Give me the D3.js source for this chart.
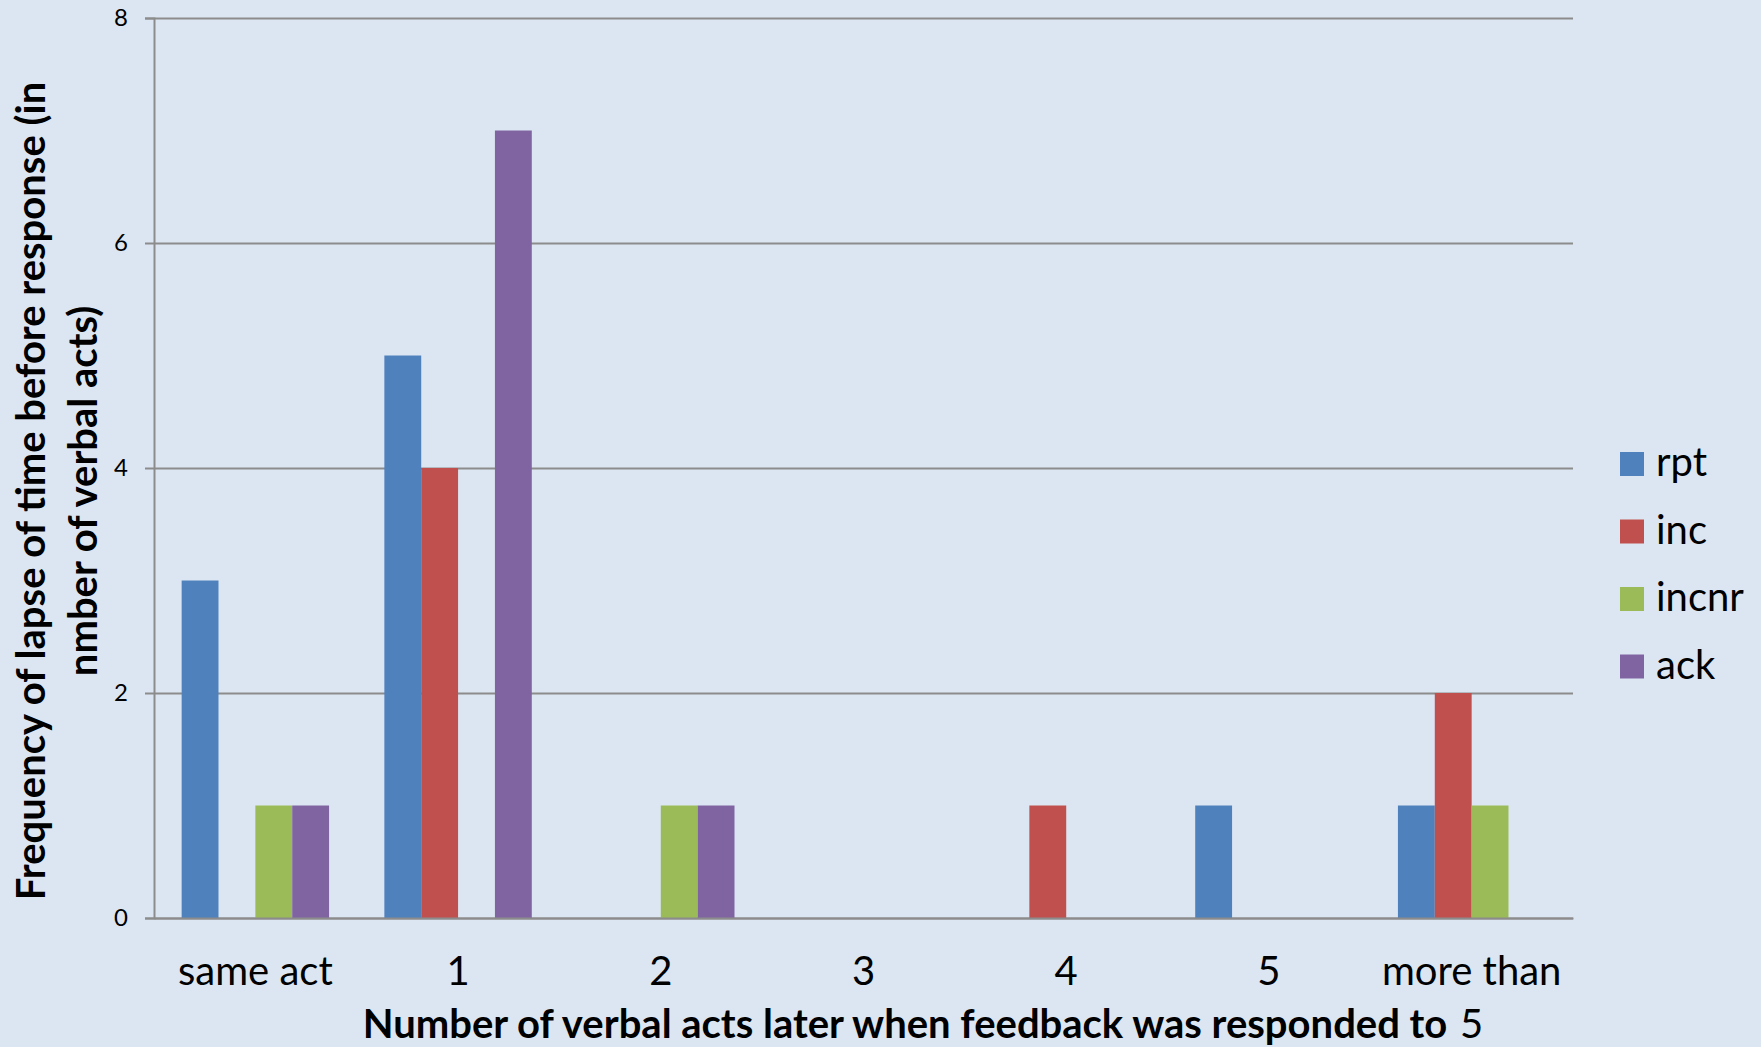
<!DOCTYPE html>
<html>
<head>
<meta charset="utf-8">
<script src="https://cdn.jsdelivr.net/npm/d3@7"></script>
<style>
  html, body { margin: 0; padding: 0; background: #dce6f2; }
  svg { display: block; font-family: Lato, "Open Sans", sans-serif; }
</style>
</head>
<body>
<script>
// chart data
const categories = ["same act", "1", "2", "3", "4", "5", "more than 5"];
const seriesNames = ["rpt", "inc", "incnr", "ack"];
const rpt   = [3, 5, 0, 0, 0, 1, 1];
const inc   = [0, 4, 0, 0, 1, 0, 2];
const incnr = [1, 0, 1, 0, 0, 0, 1];
const ack   = [1, 7, 1, 0, 0, 0, 0];
const yTicks = [0, 2, 4, 6, 8];
const colors = ["#4f81bd", "#c0504d", "#9bbb59", "#8064a2"];

const width = 1761, height = 1047;
const plot = { left: 154, right: 1573, top: 18, bottom: 918 };

const seriesValues = [rpt, inc, incnr, ack];
const rows = categories.map((c, i) => {
  const row = { cat: c };
  seriesNames.forEach((s, j) => row[s] = seriesValues[j][i]);
  return row;
});

const svg = d3.select("body").append("svg")
    .attr("width", width)
    .attr("height", height);

svg.append("rect")
    .attr("width", width)
    .attr("height", height)
    .attr("fill", "#dce6f2");

const x0 = d3.scaleBand()
    .domain(categories)
    .range([plot.left, plot.right])
    .padding(0);

// excel style gap width of 150% between groups
const slot = x0.bandwidth();
const gap = slot * 1.5 / 5.5;
const x1 = d3.scaleBand()
    .domain(seriesNames)
    .range([gap / 2, slot - gap / 2])
    .padding(0);

const y = d3.scaleLinear()
    .domain([0, 8])
    .range([plot.bottom, plot.top]);

// gridlines
svg.append("g")
    .attr("transform", "translate(" + plot.left + ",0)")
    .call(d3.axisLeft(y).tickValues(yTicks).tickSize(-(plot.right - plot.left)).tickFormat(""))
    .call(g => g.select(".domain").remove())
    .call(g => g.selectAll("line").attr("stroke", "#8c8c8c").attr("stroke-width", 2));

// bars
const groups = svg.append("g").selectAll("g")
    .data(rows)
    .enter().append("g")
    .attr("transform", d => "translate(" + x0(d.cat) + ",0)");

groups.selectAll("rect")
    .data(d => seriesNames.map((s, j) => ({ key: s, value: d[s], color: colors[j] })))
    .enter().append("rect")
    .attr("x", d => x1(d.key))
    .attr("width", x1.bandwidth())
    .attr("y", d => y(d.value))
    .attr("height", d => y(0) - y(d.value))
    .attr("fill", d => d.color);

// y axis
svg.append("g")
    .attr("transform", "translate(" + plot.left + ",0)")
    .call(d3.axisLeft(y).tickValues(yTicks).tickSize(9).tickPadding(17))
    .call(g => g.select(".domain").attr("stroke", "#8c8c8c").attr("stroke-width", 2))
    .call(g => g.selectAll("line").attr("stroke", "#8c8c8c").attr("stroke-width", 2))
    .call(g => g.selectAll("text")
        .attr("fill", "#000")
        .style("font-size", "24px")
        .style("font-family", "Lato, sans-serif"));

// x axis
const xAxis = svg.append("g")
    .attr("transform", "translate(0," + plot.bottom + ")")
    .call(d3.axisBottom(x0).tickSize(0).tickPadding(0))
    .call(g => g.select(".domain").attr("stroke", "#8c8c8c").attr("stroke-width", 2));

xAxis.selectAll("text")
    .attr("fill", "#000")
    .attr("y", 67)
    .attr("dy", 0)
    .style("font-size", "40px")
    .style("font-family", "Lato, sans-serif")
    .call(wrap, 195);

function wrap(text, w) {
  text.each(function() {
    const t = d3.select(this);
    const words = t.text().split(/\s+/);
    const ty = t.attr("y");
    t.text(null);
    let line = [];
    let lineNo = 0;
    let tspan = t.append("tspan").attr("x", 0).attr("y", ty);
    words.forEach(word => {
      line.push(word);
      tspan.text(line.join(" "));
      if (tspan.node().getComputedTextLength() > w && line.length > 1) {
        line.pop();
        tspan.text(line.join(" "));
        line = [word];
        lineNo++;
        tspan = t.append("tspan").attr("x", 0).attr("y", +ty + lineNo * 53).text(word);
      }
    });
  });
}

// axis titles
svg.append("text")
    .attr("x", 905)
    .attr("y", 1038)
    .attr("text-anchor", "middle")
    .style("font-size", "40px")
    .style("font-weight", "bold")
    .text("Number of verbal acts later when feedback was responded to");

const yTitle = ["Frequency of lapse of time before response (in", "nmber of verbal acts)"];
svg.selectAll(".ytitle")
    .data(yTitle)
    .enter().append("text")
    .attr("class", "ytitle")
    .attr("transform", (d, i) => "translate(" + (45 + i * 52) + ",491) rotate(-90)")
    .attr("text-anchor", "middle")
    .style("font-size", "40px")
    .style("font-weight", "bold")
    .text(d => d);

// legend
const legend = svg.append("g").selectAll("g")
    .data(seriesNames)
    .enter().append("g")
    .attr("transform", (d, i) => "translate(1620," + (452 + i * 67.5) + ")");

legend.append("rect")
    .attr("width", 24)
    .attr("height", 24)
    .attr("fill", (d, i) => colors[i]);

legend.append("text")
    .attr("x", 36)
    .attr("y", 24)
    .style("font-size", "40px")
    .text(d => d);
</script>
</body>
</html>
